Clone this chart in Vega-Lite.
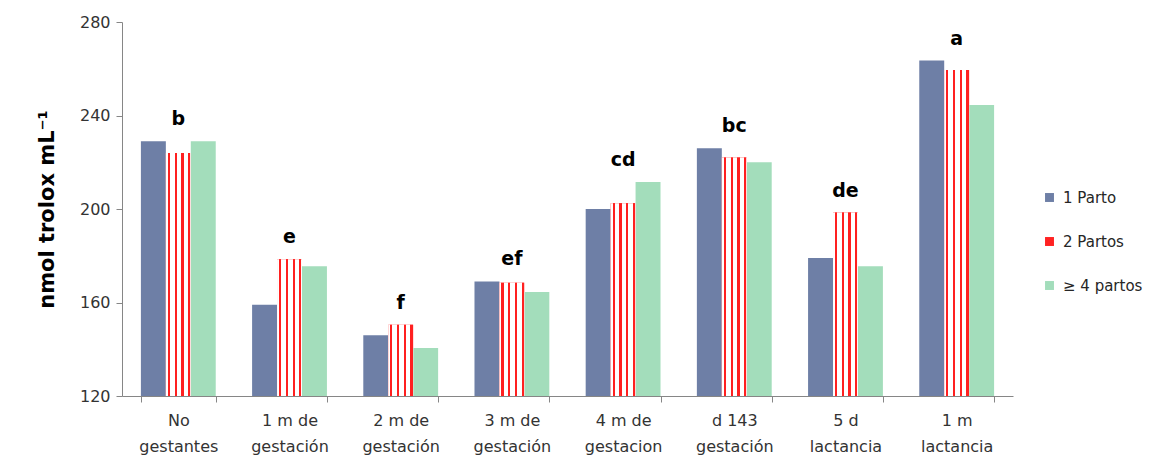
{
  "$schema": "https://vega.github.io/schema/vega-lite/v6.json",
  "width": 891,
  "height": 374,
  "autosize": {"type": "none"},
  "padding": {"left": 122, "top": 22, "right": 150, "bottom": 65},
  "background": "white",
  "config": {
    "view": {"stroke": null},
    "font": "DejaVu Sans",
    "axis": {"grid": false, "domainColor": "#868686", "tickColor": "#868686", "labelColor": "#333333", "labelFont": "DejaVu Sans", "labelFontSize": 16}
  },
  "data": {
    "values": [
      {"group": "No|gestantes", "parto": "1 Parto", "value": 229, "letter": "b"},
      {"group": "No|gestantes", "parto": "2 Partos", "value": 224, "letter": "b"},
      {"group": "No|gestantes", "parto": "≥ 4 partos", "value": 229, "letter": "b"},
      {"group": "1 m de|gestación", "parto": "1 Parto", "value": 159, "letter": "e"},
      {"group": "1 m de|gestación", "parto": "2 Partos", "value": 178.5, "letter": "e"},
      {"group": "1 m de|gestación", "parto": "≥ 4 partos", "value": 175.5, "letter": "e"},
      {"group": "2 m de|gestación", "parto": "1 Parto", "value": 146, "letter": "f"},
      {"group": "2 m de|gestación", "parto": "2 Partos", "value": 150.5, "letter": "f"},
      {"group": "2 m de|gestación", "parto": "≥ 4 partos", "value": 140.5, "letter": "f"},
      {"group": "3 m de|gestación", "parto": "1 Parto", "value": 169, "letter": "ef"},
      {"group": "3 m de|gestación", "parto": "2 Partos", "value": 168.5, "letter": "ef"},
      {"group": "3 m de|gestación", "parto": "≥ 4 partos", "value": 164.5, "letter": "ef"},
      {"group": "4 m de|gestacion", "parto": "1 Parto", "value": 200, "letter": "cd"},
      {"group": "4 m de|gestacion", "parto": "2 Partos", "value": 202.5, "letter": "cd"},
      {"group": "4 m de|gestacion", "parto": "≥ 4 partos", "value": 211.5, "letter": "cd"},
      {"group": "d 143|gestación", "parto": "1 Parto", "value": 226, "letter": "bc"},
      {"group": "d 143|gestación", "parto": "2 Partos", "value": 222, "letter": "bc"},
      {"group": "d 143|gestación", "parto": "≥ 4 partos", "value": 220, "letter": "bc"},
      {"group": "5 d|lactancia", "parto": "1 Parto", "value": 179, "letter": "de"},
      {"group": "5 d|lactancia", "parto": "2 Partos", "value": 198.5, "letter": "de"},
      {"group": "5 d|lactancia", "parto": "≥ 4 partos", "value": 175.5, "letter": "de"},
      {"group": "1 m|lactancia", "parto": "1 Parto", "value": 263.5, "letter": "a"},
      {"group": "1 m|lactancia", "parto": "2 Partos", "value": 259.5, "letter": "a"},
      {"group": "1 m|lactancia", "parto": "≥ 4 partos", "value": 244.5, "letter": "a"}
    ]
  },
  "encoding": {
    "x": {
      "field": "group", "type": "nominal", "sort": null,
      "scale": {"paddingInner": 0.327, "paddingOuter": 0.17},
      "axis": {"title": null, "labelAngle": 0, "labelExpr": "datum.value ? split(datum.value, '|') : ''", "labelLineHeight": 26, "labelPadding": 10, "tickBand": "extent", "tickSize": 6, "labelBaseline": "top"}
    }
  },
  "layer": [
    {
      "mark": {"type": "bar", "clip": true},
      "encoding": {
        "xOffset": {"field": "parto", "type": "nominal", "scale": {"domain": ["1 Parto", "2 Partos", "≥ 4 partos"], "paddingInner": 0, "paddingOuter": 0}},
        "y": {
          "field": "value", "type": "quantitative",
          "scale": {"domain": [120, 280], "zero": false, "nice": false},
          "axis": {"values": [120, 160, 200, 240, 280], "title": "nmol trolox mL⁻¹", "titleFontSize": 21, "titleFontWeight": "bold", "titleColor": "#000000", "titlePadding": 22, "tickSize": 6, "labelPadding": 6}
        },
        "fill": {
          "field": "parto", "type": "nominal",
          "scale": {"domain": ["1 Parto", "2 Partos", "≥ 4 partos"], "range": ["#6E7FA6", "#FF2222", "#A3DDBB"]},
          "legend": {"title": null, "orient": "none", "legendX": 920, "legendY": 168, "symbolType": "square", "symbolSize": 80, "symbolStrokeWidth": 0, "labelFontSize": 15, "labelColor": "#262626", "labelFont": "DejaVu Sans", "rowPadding": 28, "labelOffset": 6}
        }
      }
    },
    {
      "transform": [{"filter": "datum.parto === '2 Partos'"}],
      "mark": {
        "type": "bar",
        "clip": true,
        "fill": {
          "gradient": "linear", "x1": 0, "y1": 0, "x2": 1, "y2": 0,
          "stops": [
            {"offset": 0, "color": "#ffffff"},
            {"offset": 0.08, "color": "#ffffff"},
            {"offset": 0.08, "color": "#FF2020"},
            {"offset": 0.17, "color": "#FF2020"},
            {"offset": 0.17, "color": "#ffffff"},
            {"offset": 0.35, "color": "#ffffff"},
            {"offset": 0.35, "color": "#FF2020"},
            {"offset": 0.44, "color": "#FF2020"},
            {"offset": 0.44, "color": "#ffffff"},
            {"offset": 0.62, "color": "#ffffff"},
            {"offset": 0.62, "color": "#FF2020"},
            {"offset": 0.71, "color": "#FF2020"},
            {"offset": 0.71, "color": "#ffffff"},
            {"offset": 0.89, "color": "#ffffff"},
            {"offset": 0.89, "color": "#FF2020"},
            {"offset": 0.98, "color": "#FF2020"},
            {"offset": 0.98, "color": "#ffffff"},
            {"offset": 1, "color": "#ffffff"}
          ]
        }
      },
      "encoding": {
        "xOffset": {"field": "parto", "type": "nominal", "scale": {"domain": ["1 Parto", "2 Partos", "≥ 4 partos"], "paddingInner": 0, "paddingOuter": 0}},
        "y": {"field": "value", "type": "quantitative"}
      }
    },
    {
      "mark": {"type": "text", "fontWeight": "bold", "fontSize": 19, "color": "#000000", "dy": -22, "baseline": "middle"},
      "encoding": {
        "y": {"aggregate": "max", "field": "value", "type": "quantitative"},
        "text": {"field": "letter", "type": "nominal"}
      }
    }
  ]
}
